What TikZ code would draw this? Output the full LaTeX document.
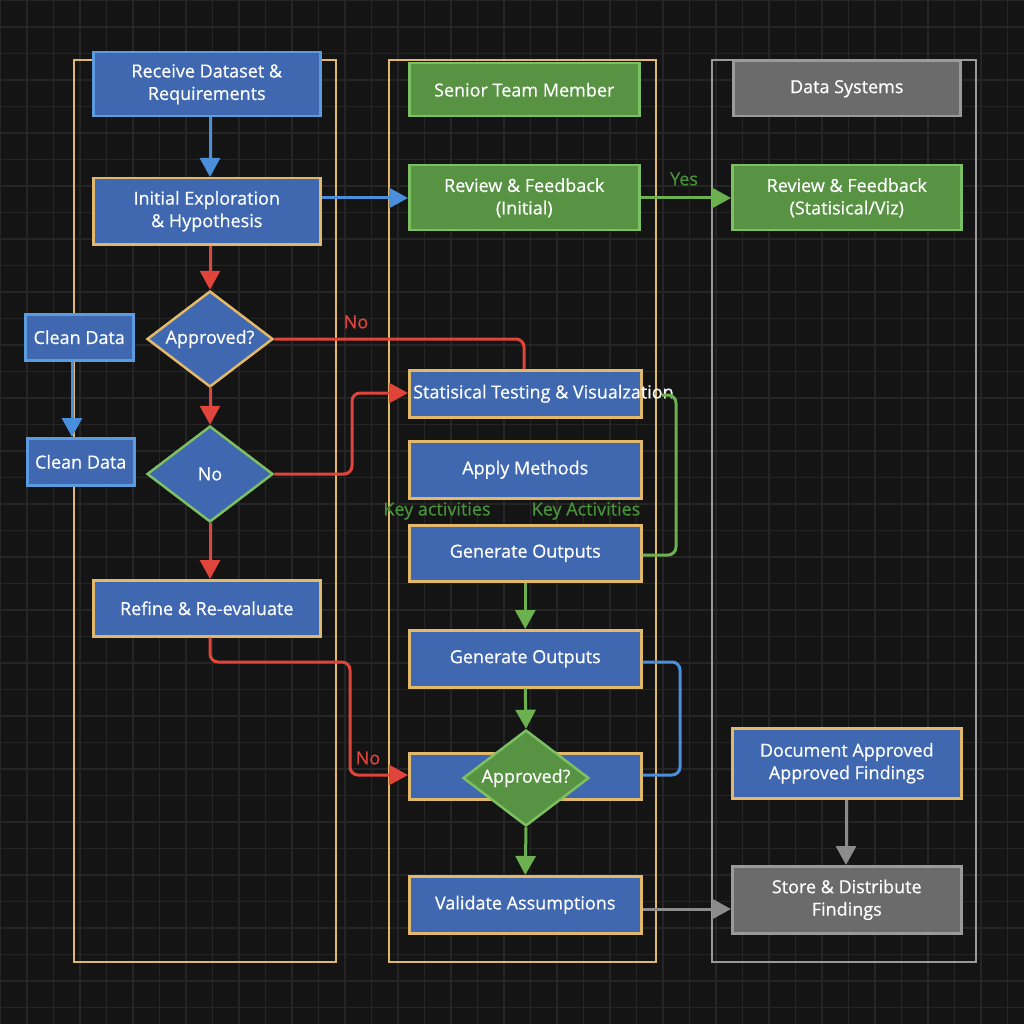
\documentclass[tikz,border=0pt]{standalone}
\usepackage{fontspec}
\setmainfont{Open Sans}[FakeBold=0.6]
\usetikzlibrary{shapes.geometric,arrows.meta}
\definecolor{bgc}{HTML}{141414}
\definecolor{gridc}{HTML}{252525}
\definecolor{bfill}{HTML}{3F68B1}
\definecolor{tan}{HTML}{E2B86B}
\definecolor{lblue}{HTML}{5B9BE0}
\definecolor{gfill}{HTML}{589343}
\definecolor{lgreen}{HTML}{7CC061}
\definecolor{grfill}{HTML}{6B6B6B}
\definecolor{lgray}{HTML}{9A9A9A}
\definecolor{redc}{HTML}{E0443A}
\definecolor{bluec}{HTML}{4A8FDB}
\definecolor{greenc}{HTML}{6CB04F}
\definecolor{grayc}{HTML}{8C8C8C}
\definecolor{txtg}{HTML}{48933A}
\tikzset{
  txt/.style={text=white, font=\fontsize{18}{22.5}\selectfont, align=center, inner sep=0pt},
  box/.style={txt, draw, line width=2.5pt, minimum width=#1, anchor=north west},
  bbox/.style={box=#1, fill=bfill, draw=tan},
  bbox2/.style={box=#1, fill=bfill, draw=lblue},
  gbox/.style={box=#1, fill=gfill, draw=lgreen},
  grbox/.style={box=#1, fill=grfill, draw=lgray},
  dia/.style={txt, diamond, aspect=1.3, draw, line width=2.5pt, fill=bfill, minimum width=126pt, minimum height=96pt},
  lane/.style={draw=tan, line width=2.5pt},
  con/.style={line width=3pt, rounded corners=8pt},
  arr/.style={con, -{Triangle[length=19pt,width=20pt]}},
  lab/.style={font=\fontsize{18}{22}\selectfont, inner sep=0pt},
}
\begin{document}
\begin{tikzpicture}[x=1pt,y=-1pt]
\fill[bgc] (0,0) rectangle (1024,1024);
\useasboundingbox (0,0) rectangle (1024,1024);
\foreach \k in {0,...,38} {
  \draw[gridc, line width=1.2pt] ({\k*26.5+0.5},0) -- ({\k*26.5+0.5},1024);
  \draw[gridc, line width=1.2pt] (0,{\k*26.5+0.5}) -- (1024,{\k*26.5+0.5});
}
% lanes
\draw[lane] (74,60) rectangle (336,962);
\draw[lane] (389,60) rectangle (656,962);
\draw[lane, draw=lgray] (712,60) rectangle (976,962);

% lane 1 nodes
\node[bbox2=227pt, minimum height=64pt] (recv) at (92,51) {Receive Dataset \&\\Requirements};
\node[bbox=227pt, minimum height=66pt] (init) at (92,177) {Initial Exploration\\\& Hypothesis};
\node[dia, draw=tan] (appr1) at (210,339) {Approved?};
\node[dia, draw=lgreen] (no) at (210,474) {No};
\node[bbox2=108pt, minimum height=46pt] (clean1) at (24,313) {Clean Data};
\node[bbox2=107pt, minimum height=47pt] (clean2) at (26,437) {Clean Data};
\node[bbox=227pt, minimum height=56pt] (refine) at (92,579) {Refine \& Re-evaluate};

% lane 2 nodes
\node[gbox=230pt, minimum height=53pt] (senior) at (408,62) {Senior Team Member};
\node[gbox=230pt, minimum height=65pt] (rev1) at (408,164) {Review \& Feedback\\(Initial)};
\node[bbox=232pt, minimum height=47pt] (stat) at (408,369) {};
\node[txt, anchor=west] (stattxt) at ([xshift=5pt]stat.west) {Statisical Testing \& Visualzation};
\node[bbox=232pt, minimum height=57pt] (apply) at (408,440) {Apply Methods};
\node[bbox=232pt, minimum height=56pt] (gen1) at (408,524) {Generate Outputs};
\node[bbox=232pt, minimum height=57pt] (gen2) at (408,629) {Generate Outputs};
\node[bbox=232pt, minimum height=46pt] (blank) at (408,752) {};
\node[dia, fill=gfill, draw=lgreen] (appr2) at (526,778) {Approved?};
\node[bbox=232pt, minimum height=57pt] (valid) at (408,875) {Validate Assumptions};
\node[lab, text=txtg] (ka1) at (437,511) {Key activities};
\node[lab, text=txtg] (ka2) at (586,511) {Key Activities};

% lane 3 nodes
\node[grbox=227pt, minimum height=55pt] (datasys) at (732,60) {Data Systems};
\node[gbox=229pt, minimum height=65pt] (rev2) at (731,164) {Review \& Feedback\\(Statisical/Viz)};
\node[bbox=229pt, minimum height=70pt] (doc) at (731,727) {Document Approved\\Approved Findings};
\node[grbox=229pt, minimum height=67pt] (store) at (731,865) {Store \& Distribute\\Findings};

% connectors
\draw[arr, bluec] (recv.south -| appr1.north) -- (init.north -| appr1.north);
\draw[arr, bluec] (init.east |- 0,198) -- (rev1.west |- 0,198);
\draw[arr, redc] (init.south -| appr1.north) -- (appr1.north);
\draw[con, redc] (appr1.east) -- (524,339) -- (stat.north -| 524,0);
\node[lab, text=redc] (no1) at (356,322) {No};
\draw[arr, redc] (appr1.south) -- (no.north);
\draw[arr, redc] (no.east) -- (352,474) -- (352,393) -- (stat.west |- 0,393);
\draw[arr, redc] (no.south) -- (refine.north -| no.south);
\draw[arr, redc] (refine.south -| no.south) -- (210,662) -- (350,662) -- (350,775) -- (blank.west |- 0,775);
\node[lab, text=redc] (no2) at (368,758) {No};
\draw[arr, bluec] (clean1.south -| 72,0) -- (clean2.north -| 72,0);
\draw[arr, greenc] (rev1.east |- 0,198) -- (rev2.west |- 0,198);
\node[lab, text=txtg] (yes) at (684,179) {Yes};
\draw[con, greenc] (gen1.east |- 0,555) -- (676,555) -- (676,395) -- (662,395);
\draw[arr, greenc] (gen1.south) -- (gen2.north);
\draw[arr, greenc] (gen2.south) -- (appr2.north);
\draw[con, bluec] (gen2.east |- 0,662) -- (680,662) -- (680,775) -- (blank.east |- 0,775);
\draw[arr, greenc] (appr2.south) -- (valid.north);
\draw[arr, grayc] (valid.east |- 0,909) -- (store.west |- 0,909);
\draw[arr, grayc] (doc.south -| 846,0) -- (store.north -| 846,0);
\end{tikzpicture}
\end{document}
